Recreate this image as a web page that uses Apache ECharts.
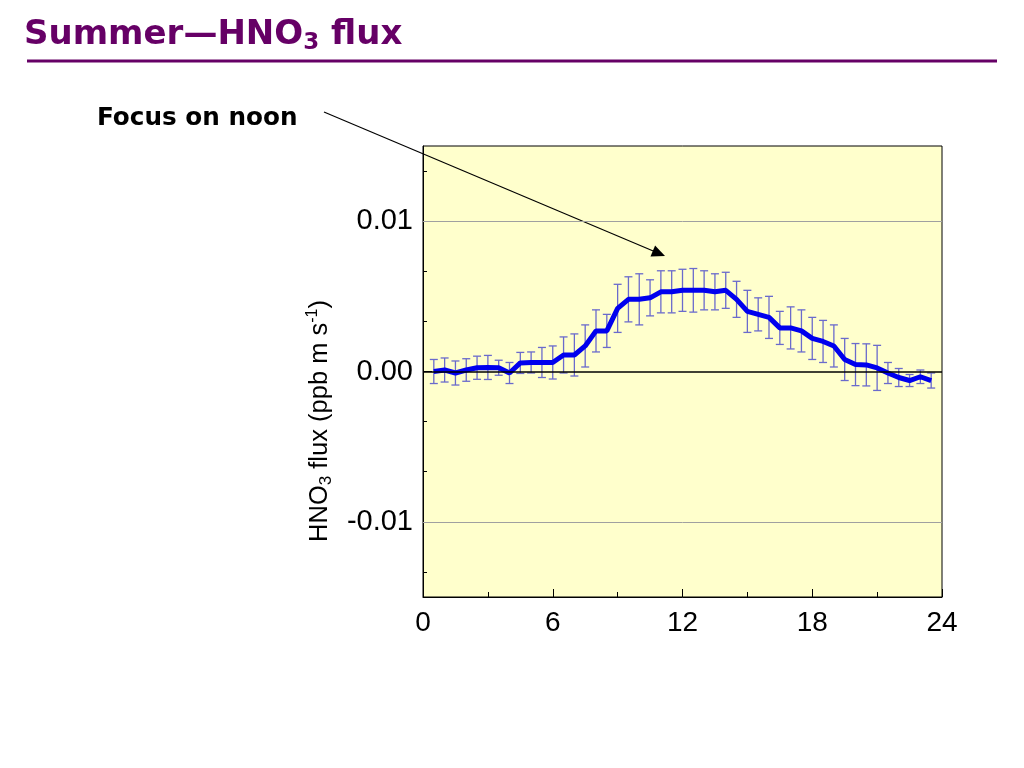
<!DOCTYPE html>
<html>
<head>
<meta charset="utf-8">
<script src="https://cdn.jsdelivr.net/npm/echarts@6/dist/echarts.min.js"></script>
<style>html,body{margin:0;padding:0;background:#fff;}#c{width:1024px;height:768px;}</style>
</head>
<body>
<div id="c"></div>
<script>
const hours = [0.5,1,1.5,2,2.5,3,3.5,4,4.5,5,5.5,6,6.5,7,7.5,8,8.5,9,9.5,10,10.5,11,11.5,12,12.5,13,13.5,14,14.5,15,15.5,16,16.5,17,17.5,18,18.5,19,19.5,20,20.5,21,21.5,22,22.5,23,23.5];
const flux = [0.0000,0.0001,-0.0001,0.0001,0.00025,0.00027,0.00025,-0.0001,0.00057,0.0006,0.0006,0.0006,0.0011,0.0011,0.0017,0.0027,0.0027,0.0042,0.0048,0.0048,0.0049,0.0053,0.0053,0.0054,0.0054,0.0054,0.0053,0.0054,0.0048,0.0040,0.0038,0.0036,0.0029,0.0029,0.0027,0.0022,0.0020,0.0017,0.0008,0.00046,0.00044,0.00024,-0.0001,-0.0004,-0.0006,-0.00035,-0.0006];
const fluxErr = [0.0008,0.0008,0.0008,0.00075,0.00077,0.0008,0.0005,0.0007,0.0007,0.0007,0.001,0.0011,0.0012,0.0014,0.0014,0.0014,0.0011,0.0016,0.0015,0.0017,0.0012,0.0014,0.0014,0.0014,0.00145,0.0013,0.0012,0.0012,0.0012,0.0014,0.0011,0.0014,0.0011,0.0014,0.0014,0.0014,0.0014,0.0014,0.0014,0.0014,0.0014,0.0015,0.0007,0.0006,0.0004,0.00045,0.0005];
const yLabelValues = [-0.01, 0, 0.01];
const yMinorTicks = [-0.04/3, -0.02/3, -0.01/3, 0.01/3, 0.02/3, 0.04/3];
const xTickLabels = ['0','6','12','18','24'];

const lineData = hours.map((h,i)=>[h, flux[i]]);
const errData = hours.map((h,i)=>[h, flux[i]-fluxErr[i], flux[i]+fluxErr[i]]);

const chart = echarts.init(document.getElementById('c'));
const FONT = 'Liberation Sans, Arial, sans-serif';
chart.setOption({
  animation: false,
  backgroundColor: '#fff',
  grid: {left: 423, right: 82, top: 146, bottom: 171, show: true, backgroundColor: '#FFFFCC', borderColor: '#000', borderWidth: 1},
  xAxis: {
    type: 'value', min: 0, max: 24, interval: 6,
    axisLine: {show: true, onZero: false, lineStyle: {color: '#000', width: 1}},
    axisTick: {show: true, inside: true, length: 8, lineStyle: {color: '#000'}},
    minorTick: {show: true, splitNumber: 2, length: 5, lineStyle: {color: '#000'}},
    splitLine: {show: false},
    axisLabel: {fontFamily: FONT, fontSize: 28, color: '#000', margin: 12,
      formatter: v => xTickLabels[Math.round(v/6)] }
  },
  yAxis: [{
    type: 'value', min: -0.015, max: 0.015,
    axisLine: {show: true, lineStyle: {color: '#000', width: 1}},
    axisTick: {show: true, inside: true, length: 9, customValues: yLabelValues, lineStyle: {color: '#000'}},
    splitLine: {show: false},
    axisLabel: {fontFamily: FONT, fontSize: 29, color: '#000', margin: 10, customValues: yLabelValues,
      formatter: v => v.toFixed(2)}
  },{
    type: 'value', min: -0.015, max: 0.015, position: 'left',
    axisLine: {show: false},
    axisTick: {show: true, inside: true, length: 4, customValues: yMinorTicks, lineStyle: {color: '#000'}},
    axisLabel: {show: false},
    splitLine: {show: false}
  }],
  series: [
    {
      type: 'line', data: [], yAxisIndex: 0, silent: true,
      markLine: {symbol: 'none', silent: true, label: {show: false},
        data: [
          {yAxis: 0.01, lineStyle: {color: '#a0a0a0', width: 1, type: 'solid'}},
          {yAxis: -0.01, lineStyle: {color: '#a0a0a0', width: 1, type: 'solid'}},
          {yAxis: 0, lineStyle: {color: '#000', width: 1.5, type: 'solid'}}
        ]}
    },
    {
      type: 'custom', data: errData, z: 3,
      encode: {x: 0, y: [1,2]},
      renderItem: function(params, api){
        const x = api.value(0);
        const lo = api.coord([x, api.value(1)]);
        const hi = api.coord([x, api.value(2)]);
        const w = 4;
        const st = {stroke: '#6a6acc', lineWidth: 1.3};
        return {type: 'group', children: [
          {type: 'line', shape: {x1: lo[0], y1: lo[1], x2: hi[0], y2: hi[1]}, style: st},
          {type: 'line', shape: {x1: lo[0]-w, y1: lo[1], x2: lo[0]+w, y2: lo[1]}, style: st},
          {type: 'line', shape: {x1: hi[0]-w, y1: hi[1], x2: hi[0]+w, y2: hi[1]}, style: st}
        ]};
      }
    },
    {
      type: 'line', data: lineData, z: 4, symbol: 'none',
      lineStyle: {color: '#0000EE', width: 5}
    }
  ],
  graphic: [
    {type: 'text', left: 24, top: 18, style: {
      text: '{t|Summer—HNO}{s|3}{t| flux}',
      rich: {
        t: {fontFamily: 'DejaVu Sans', fontWeight: 'bold', fontSize: 34, fill: '#660066', lineHeight: 40, verticalAlign: 'middle'},
        s: {fontFamily: 'DejaVu Sans', fontWeight: 'bold', fontSize: 23, fill: '#660066', lineHeight: 26, verticalAlign: 'bottom'}
      }}},
    {type: 'rect', shape: {x: 27, y: 59.5, width: 970, height: 3}, style: {fill: '#660066'}},
    {type: 'text', left: 97, top: 106, style: {text: 'Focus on noon', fontFamily: 'DejaVu Sans', fontWeight: 'bold', fontSize: 24.7, fill: '#000'}},
    {type: 'line', shape: {x1: 324, y1: 112, x2: 655, y2: 251.8}, style: {stroke: '#000', lineWidth: 1.2}},
    {type: 'polygon', shape: {points: [[665, 256], [650.5, 256.6], [655.1, 245.6]]}, style: {fill: '#000'}},
    {type: 'text', x: 320, y: 421, rotation: Math.PI/2, style: {
      text: '{n|HNO}{s|3}{n| flux (ppb m s}{p|-1}{n|)}',
      align: 'center', verticalAlign: 'middle',
      rich: {
        n: {fontFamily: FONT, fontSize: 25.5, fill: '#000', lineHeight: 30, verticalAlign: 'middle'},
        s: {fontFamily: FONT, fontSize: 17, fill: '#000', lineHeight: 22, verticalAlign: 'bottom'},
        p: {fontFamily: FONT, fontSize: 16, fill: '#000', lineHeight: 22, verticalAlign: 'top'}
      }}}
  ]
});
</script>
</body>
</html>
